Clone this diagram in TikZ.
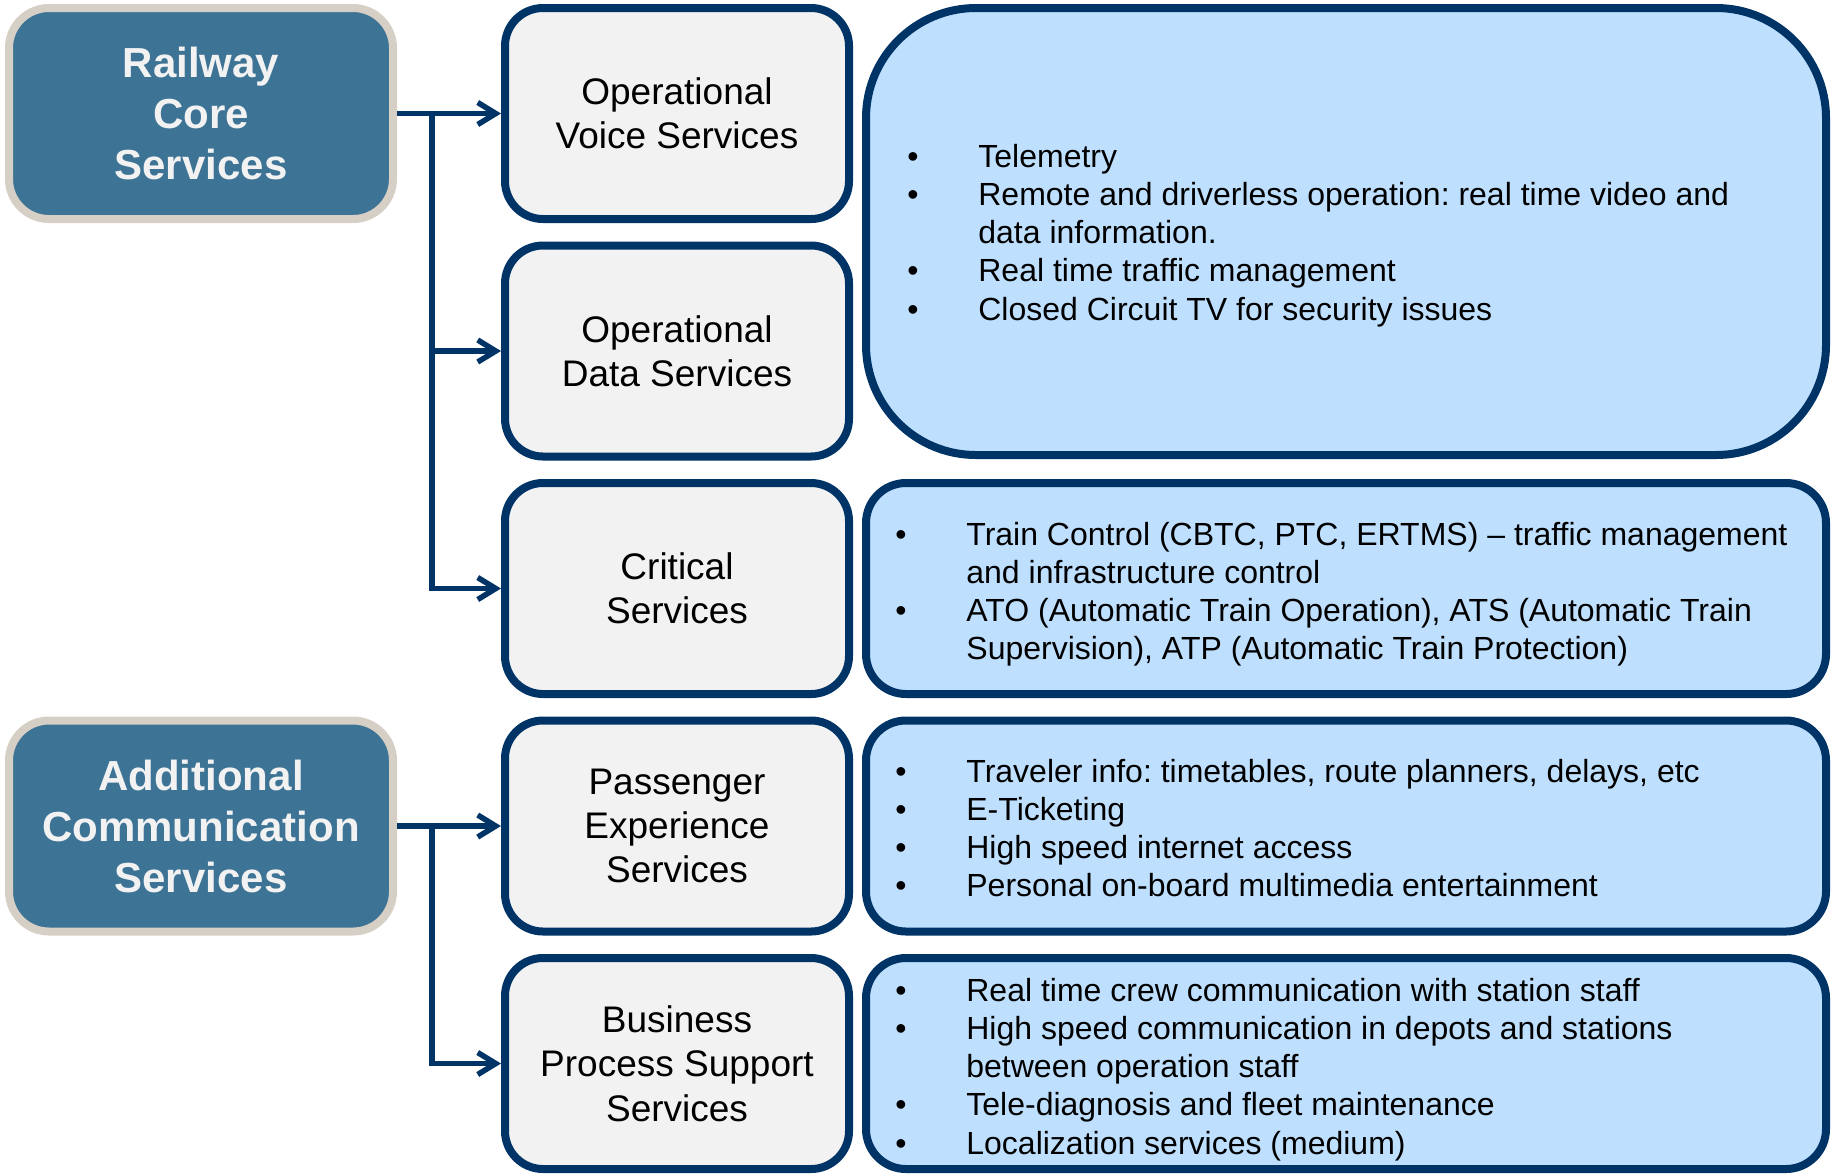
\documentclass[tikz,border=0pt]{standalone}
\usepackage{fontspec}
\setmainfont{Liberation Sans}
\usetikzlibrary{arrows.meta}
\definecolor{navy}{RGB}{0,51,102}
\definecolor{steel}{RGB}{61,115,149}
\definecolor{beige}{RGB}{214,207,197}
\definecolor{greyfill}{RGB}{242,242,242}
\definecolor{lightblue}{RGB}{190,223,254}
\definecolor{whitetext}{RGB}{242,242,242}
\frenchspacing
\newlength{\bind}\setlength{\bind}{35pt}
\newcommand{\bul}{\makebox[\bind][l]{\hspace{-0.5pt}\textbullet}}
\newcommand{\nob}{\hspace*{\bind}}
\begin{document}
\begin{tikzpicture}[x=0.5pt,y=-0.5pt,
  core/.style={draw=beige, fill=steel, line width=4pt, rounded corners=20pt,
    minimum width=192pt, minimum height=105.5pt, inner sep=0pt,
    text=whitetext, align=center, font=\bfseries\fontsize{21}{25.5}\selectfont},
  svc/.style={draw=navy, fill=greyfill, line width=4pt, rounded corners=19pt,
    minimum width=172pt, minimum height=105.5pt, inner sep=0pt,
    align=center, font=\fontsize{18.5}{22.2}\selectfont},
  desc/.style={draw=navy, fill=lightblue, line width=4pt, rounded corners=20pt,
    minimum width=480pt, minimum height=105.5pt, inner sep=0pt},
  btext/.style={anchor=west, inner sep=0pt, font=\fontsize{16}{19.1}\selectfont},
  conn/.style={draw=navy, line width=2.75pt, -{Straight Barb[length=9pt,width=11pt]}}
]
\useasboundingbox (0,0) rectangle (1835,1175);

% left category boxes
\node[core] (rail) at (201,113.5) {Railway\\Core\\Services};
\node[core] (add) at (201,826) {Additional\\Communication\\Services};

% service boxes
\node[svc] (voice) at (677,113.5) {Operational\\Voice Services};
\node[svc] (data) at (677,351) {Operational\\Data Services};
\node[svc] (crit) at (677,588.5) {Critical\\Services};
\node[svc] (pass) at (677,826) {Passenger\\Experience\\Services};
\node[svc] (bus) at (677,1063.5) {Business\\Process Support\\Services};

% description boxes
\node[desc, minimum height=223.5pt, rounded corners=55pt] (dbig) at (1346,231.5) {};
\node[desc] (dcrit) at (1346,588.5) {};
\node[desc] (dpass) at (1346,826) {};
\node[desc] (dbus) at (1346,1063.5) {};

\node[btext] (tbig) at (908,236) {\begin{tabular}{@{}l@{}l@{}}
\bul & Telemetry\\
\bul & Remote and driverless operation: real time video and\\
\nob & data information.\\
\bul & Real time traffic management\\
\bul & Closed Circuit TV for security issues
\end{tabular}};
\node[btext] (tcrit) at (896,595) {\begin{tabular}{@{}l@{}l@{}}
\bul & Train Control (CBTC, PTC, ERTMS) – traffic management\\
\nob & and infrastructure control\\
\bul & ATO (Automatic Train Operation), ATS (Automatic Train\\
\nob & Supervision), ATP (Automatic Train Protection)
\end{tabular}};
\node[btext] (tpass) at (896,832) {\begin{tabular}{@{}l@{}l@{}}
\bul & Traveler info: timetables, route planners, delays, etc\\
\bul & E-Ticketing\\
\bul & High speed internet access\\
\bul & Personal on-board multimedia entertainment
\end{tabular}};
\node[btext] (tbus) at (896,1070) {\begin{tabular}{@{}l@{}l@{}}
\bul & Real time crew communication with station staff\\
\bul & High speed communication in depots and stations\\
\nob & between operation staff\\
\bul & Tele-diagnosis and fleet maintenance\\
\bul & Localization services (medium)
\end{tabular}};

% connectors
\coordinate (j1) at (432,113.5);
\coordinate (j2) at (432,826);
\draw[conn] (rail.east) -- (voice.west);
\draw[conn] (j1) |- (data.west);
\draw[conn] (j1) |- (crit.west);
\draw[conn] (add.east) -- (pass.west);
\draw[conn] (j2) |- (bus.west);
\end{tikzpicture}
\end{document}
